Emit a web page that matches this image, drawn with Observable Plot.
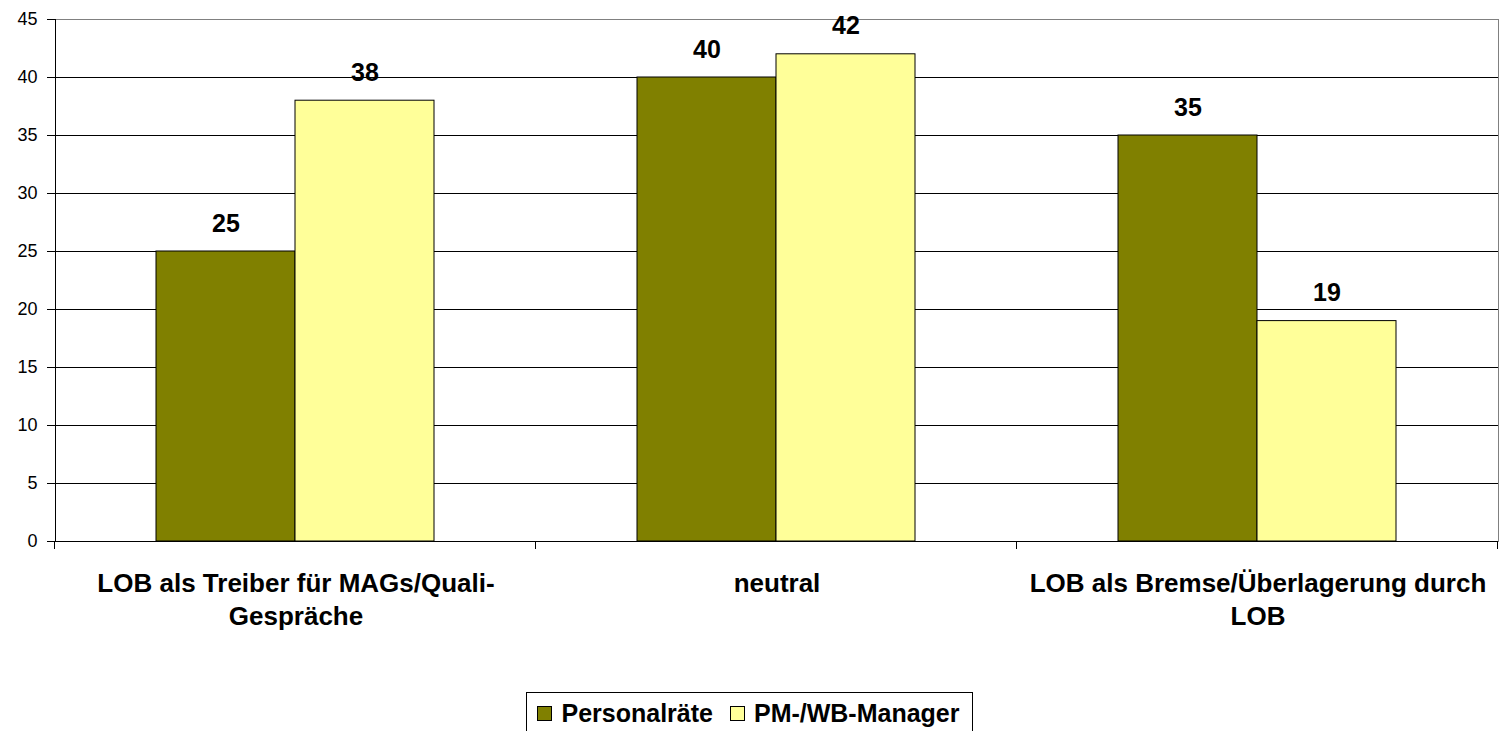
<!DOCTYPE html>
<html>
<head>
<meta charset="utf-8">
<script src="https://cdn.jsdelivr.net/npm/d3@7"></script>
<script src="https://cdn.jsdelivr.net/npm/@observablehq/plot@0.6"></script>
<style>
  html, body { margin: 0; padding: 0; background: #fff; }
  body { width: 1499px; height: 731px; overflow: hidden; font-family: Arial, "Liberation Sans", sans-serif; }
  #legend { display: flex; justify-content: center; margin-top: 12px; }
  #legend .box { display: flex; align-items: center; border: 1px solid #000; padding: 6px 12px 12px 10px; font-weight: bold; font-size: 25px; color: #000; }
  #legend .sw { width: 13px; height: 13px; border: 1px solid #000; margin-right: 9px; }
  #legend .item { display: flex; align-items: center; margin-right: 17px; }
  #legend .item:last-child { margin-right: 0; }
</style>
</head>
<body>
<div id="chart"></div>
<div id="legend"></div>
<script>
const categories = [
  "LOB als Treiber für MAGs/Quali-Gespräche",
  "neutral",
  "LOB als Bremse/Überlagerung durch LOB"
];
const categoryLabels = [
  "LOB als Treiber für MAGs/Quali-\nGespräche",
  "neutral",
  "LOB als Bremse/Überlagerung durch\nLOB"
];
const seriesNames = ["Personalräte", "PM-/WB-Manager"];
const seriesColors = ["#808000", "#FFFF99"];
const personalraete = [25, 40, 35];
const pmManager = [38, 42, 19];
const yTicks = [0, 5, 10, 15, 20, 25, 30, 35, 40, 45];

const font = 'Arial, "Liberation Sans", sans-serif';

// custom mark: black left axis line + category boundary ticks, using the x/y scales
function axisDecor(index, scales, values, dimensions) {
  const {marginLeft, marginTop} = dimensions;
  const x = scales.x;
  const bw = typeof x.bandwidth === "function" ? x.bandwidth()
    : (dimensions.width - dimensions.marginLeft - dimensions.marginRight) / categories.length;
  const y0 = scales.y(0);
  const g = d3.create("svg:g").attr("stroke", "#000").attr("stroke-width", 1);
  g.append("line").attr("x1", marginLeft + 0.5).attr("x2", marginLeft + 0.5)
    .attr("y1", marginTop).attr("y2", y0 + 0.5);
  const xs = categories.map(c => x(c)).concat([x(categories[categories.length - 1]) + bw]);
  xs.forEach(v => {
    const px = Math.round(v) - 0.5;
    g.append("line").attr("x1", px).attr("x2", px).attr("y1", y0).attr("y2", y0 + 8);
  });
  return g.node();
}

const chart = Plot.plot({
  width: 1499,
  height: 680,
  marginLeft: 55,
  marginRight: 1,
  marginTop: 19,
  marginBottom: 139,
  style: {fontFamily: font, color: "#000", background: "#fff"},
  x: {domain: categories, padding: 0, axis: null},
  y: {domain: [0, 45], axis: null},
  marks: [
    Plot.frame({stroke: "#808080"}),
    Plot.ruleY(yTicks.filter(d => d > 0 && d < 45), {stroke: "#000", strokeWidth: 1}),
    Plot.barY(categories, {x: d => d, y: (d, i) => personalraete[i], fill: seriesColors[0], stroke: "#000", strokeWidth: 1, insetLeft: 101, insetRight: 241}),
    Plot.barY(categories, {x: d => d, y: (d, i) => pmManager[i], fill: seriesColors[1], stroke: "#000", strokeWidth: 1, insetLeft: 240, insetRight: 102}),
    Plot.ruleY([0], {stroke: "#000", strokeWidth: 1}),
    Plot.axisY({ticks: yTicks, tickSize: 8, tickPadding: 10, fontSize: 18, tickFormat: d => String(d)}),
    axisDecor,
    Plot.text(categories, {x: d => d, y: (d, i) => personalraete[i], text: (d, i) => String(personalraete[i]), dx: -70, dy: -28, fontSize: 25, fontWeight: "bold", fill: "#000"}),
    Plot.text(categories, {x: d => d, y: (d, i) => pmManager[i], text: (d, i) => String(pmManager[i]), dx: 69, dy: -28, fontSize: 25, fontWeight: "bold", fill: "#000"}),
    Plot.text(categories, {x: d => d, text: (d, i) => categoryLabels[i], frameAnchor: "bottom", dy: 27, lineAnchor: "top", lineHeight: 1.27, fontSize: 26, fontWeight: "bold", fill: "#000"})
  ]
});
document.getElementById("chart").appendChild(chart);

// legend
const box = d3.select("#legend").append("div").attr("class", "box");
seriesNames.forEach((name, i) => {
  const item = box.append("div").attr("class", "item");
  item.append("div").attr("class", "sw").style("background", seriesColors[i]);
  item.append("span").text(name);
});
</script>
</body>
</html>
